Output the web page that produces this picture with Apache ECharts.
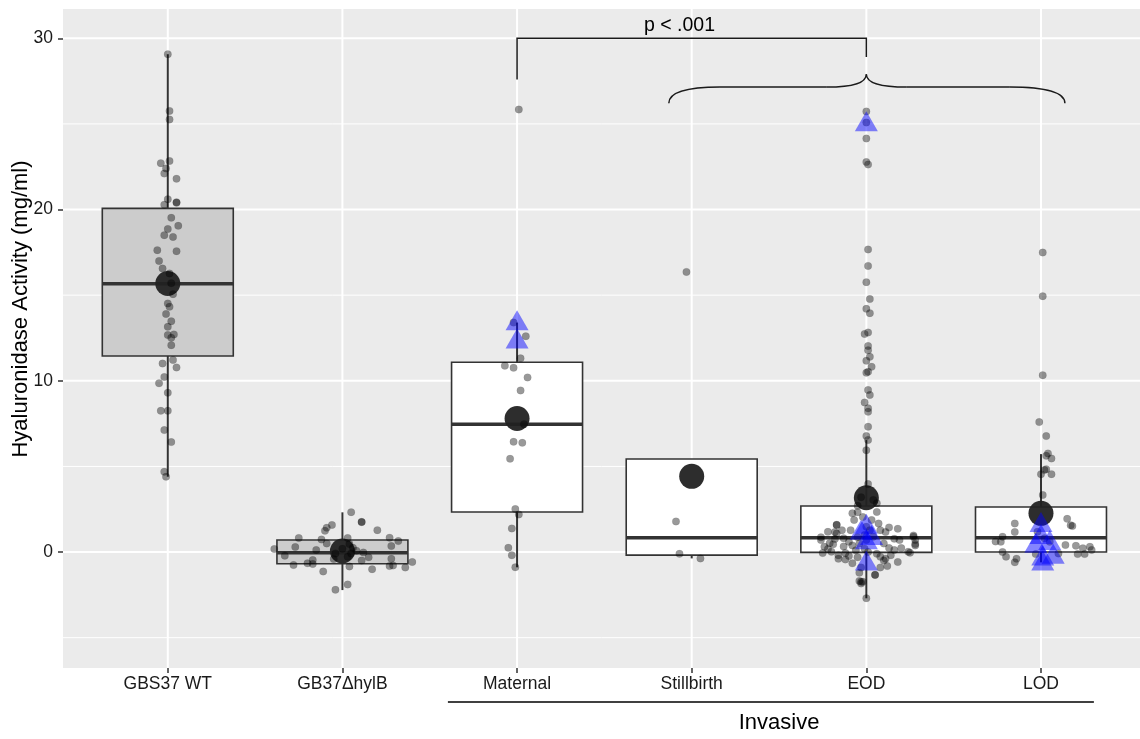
<!DOCTYPE html>
<html><head><meta charset="utf-8">
<script src="https://cdn.jsdelivr.net/npm/echarts@6.0.0/dist/echarts.min.js"></script>
<style>html,body{margin:0;padding:0;background:#fff}#c{width:1140px;height:739px}</style>
</head><body><div id="c"></div>
<script>
// ---------- data ----------
const categories = ['GBS37 WT', 'GB37ΔhylB', 'Maternal', 'Stillbirth', 'EOD', 'LOD'];
const yTicks = [0, 10, 20, 30];
const yMinor = [-5, 5, 15, 25];
const yTitle = 'Hyaluronidase Activity (mg/ml)';
// boxplot statistics
const whiskerLow  = [4.40, -2.22, -0.89, -0.37, -2.70, -0.60];
const q1          = [11.45, -0.68, 2.34, -0.18, -0.02, 0.00];
const median      = [15.67, -0.04, 7.46, 0.84, 0.84, 0.84];
const q3          = [20.07, 0.70, 11.08, 5.43, 2.69, 2.63];
const whiskerHigh = [29.07, 2.32, 13.40, 1.79, 6.54, 5.72];
const boxFilled   = [1, 1, 0, 0, 0, 0];
const means       = [15.68, 0.06, 7.80, 4.42, 3.17, 2.26];
// individual observations: [jitter (category units), value]
const ptsWT = [[0,29.07],[0.01,25.76],[0.01,25.26],[-0.04,22.71],[0.01,22.83],[-0.01,22.4],[-0.02,22.1],[0.05,21.8],[0,20.6],[-0.02,20.28],[0.05,20.39],[0.05,20.42],[0.02,19.52],[0.06,19.05],[0,18.86],[-0.02,18.5],[0.03,18.4],[-0.06,17.63],[0.05,17.57],[-0.05,17.0],[-0.03,16.56],[0.01,16.27],[0.02,15.7],[0.03,15.06],[0,14.52],[0.01,14.32],[-0.01,13.9],[0.02,13.48],[0,13.15],[0,12.67],[0.035,12.71],[0.02,12.51],[0.02,12.08],[0.03,11.21],[0.05,10.78],[-0.03,11.01],[-0.02,10.22],[-0.05,9.85],[0,9.3],[-0.04,8.25],[0,8.25],[-0.02,7.12],[0.02,6.42],[-0.02,4.69],[-0.01,4.4]];
const ptsHylB = [[0.05,2.33],[0.11,1.75],[0.11,1.76],[-0.06,1.58],[-0.09,1.42],[-0.1,1.24],[0.2,1.28],[-0.25,0.82],[0.03,0.82],[-0.12,0.74],[0.27,0.84],[0.32,0.64],[-0.09,0.5],[0.04,0.47],[-0.39,0.18],[-0.27,0.29],[-0.15,0.12],[0.08,0.08],[0.12,-0.02],[0.28,0.35],[-0.33,-0.21],[0.15,-0.31],[-0.05,-0.41],[0.03,-0.27],[0.28,-0.39],[-0.17,-0.47],[0.4,-0.58],[-0.28,-0.76],[-0.2,-0.66],[-0.17,-0.7],[0.04,-0.84],[0.17,-1.0],[0.27,-0.82],[0.29,-0.78],[0.36,-0.9],[-0.11,-1.13],[0.03,-1.89],[-0.04,-2.2],[-0.04,-0.08],[0.05,-0.08],[0,0.2],[0.06,0.25],[0.11,-0.5]];
const ptsMaternal = [[0.01,25.84],[-0.02,13.4],[0.05,12.6],[0.02,11.31],[-0.07,10.88],[-0.02,10.76],[0.06,10.2],[0.02,9.44],[0.04,7.47],[-0.02,6.44],[0.03,6.38],[-0.04,5.45],[-0.01,2.51],[0.01,2.2],[-0.03,1.38],[-0.05,0.25],[-0.03,-0.19],[-0.01,-0.89]];
const ptsStillbirth = [[-0.03,16.36],[-0.09,1.79],[-0.07,-0.1],[0.05,-0.37]];
const ptsEOD = [[0,25.73],[0,25.08],[0,24.15],[0,22.77],[0.01,22.63],[0.01,17.67],[0.01,16.71],[0,15.76],[0.02,14.77],[0,14.2],[0.02,13.95],[-0.01,12.74],[0.01,12.82],[0.01,12.03],[0.01,11.79],[0.02,11.4],[0,11.17],[0.03,10.82],[0.01,10.53],[0,10.47],[0.01,9.46],[0.02,9.17],[-0.01,8.74],[0.01,8.39],[0.01,8.19],[0.01,7.32],[0,6.77],[0.01,6.54],[0,5.95],[0.01,3.97],[-0.03,3.2],[0.04,3.04],[0.06,2.85],[-0.05,2.7],
 [-0.08,2.26],[-0.05,2.32],[0.06,2.34],[-0.02,2.04],[0.07,1.67],[-0.17,1.6],[0.13,1.44],[0.18,1.36],[-0.22,1.18],[-0.18,1.17],[-0.14,1.27],[-0.09,1.28],[-0.26,0.86],[-0.26,0.7],[-0.18,0.76],[-0.13,0.8],[0.16,0.78],[0.19,0.7],[0.27,0.97],[0.28,0.7],[0.28,0.39],[0.24,0.02],[-0.24,0.31],[-0.22,0.18],[-0.25,-0.06],[-0.2,0.02],[-0.19,0.45],[-0.13,0.33],[-0.08,0.39],[-0.16,-0.39],[-0.12,-0.43],[-0.1,-0.23],[-0.05,-0.31],[-0.16,-0.19],[0.08,-0.27],[0.11,-0.39],[0.14,-0.19],[0.18,-0.58],[0.12,-0.82],[0.08,-0.9],[-0.03,-0.9],[-0.08,-0.66],[0.05,-1.33],[-0.04,-1.21],[-0.04,-1.69],[-0.02,-1.73],[-0.03,-1.83],[0,-2.7],
 [0,1.48],[0.02,1.28],[-0.01,1.0],[0.04,0.9],[0,0.7],[-0.05,0.87],[0.08,1.28],[0.11,1.17],[0.03,1.87],[-0.07,1.87],[-0.01,0.2],[0.01,0.0],[0.13,0.23],[0.16,0.12],[0.2,0.23],[0.1,0.5],[-0.1,0.6],[-0.04,0.5],[-0.21,0.51],[-0.17,1.58],[-0.17,1.09],[0.27,0.9],[0.28,0.47],[0.25,-0.04],[-0.03,-1.73],[0.05,-1.34],[0.06,-0.1],[-0.06,0.1],[0.1,-0.5],[-0.12,-0.05]];
const ptsLOD = [[0.01,17.49],[0.01,14.94],[0.01,10.33],[-0.01,7.59],[0.03,6.77],[0.04,5.76],[0.06,5.47],[0.03,5.62],[0.02,4.79],[0,4.55],[0.06,4.55],[0.03,4.83],[0.01,3.33],[-0.15,1.67],[0.15,1.94],[0.17,1.56],[0.18,1.52],[-0.15,1.17],[-0.22,0.9],[-0.26,0.62],[-0.23,0.6],[-0.22,0.0],[-0.2,-0.27],[-0.14,-0.39],[-0.15,-0.6],[0.14,0.41],[0.2,0.37],[0.24,0.22],[0.21,-0.12],[0.28,0.31],[0.29,0.12],[0.25,-0.12],[0.1,-0.08],[-0.03,-0.12],[-0.02,1.19],[0.02,0.8],[0.05,0.6]];
const pointsByGroup = [ptsWT, ptsHylB, ptsMaternal, ptsStillbirth, ptsEOD, ptsLOD];
// highlighted observations (triangles): [category index, jitter, value]
const triangles = [[2,0,13.54],[2,0,12.47],[4,0,25.15],[4,0,1.65],[4,-0.03,1.3],[4,0.03,1.0],[4,0,0.75],[4,0,-0.5],
  [5,0,1.75],[5,0,1.05],[5,0.05,0.7],[5,-0.03,0.55],[5,0.01,-0.2],[5,0.07,-0.1],[5,0.01,-0.5]];
// significance annotation (data coordinates)
const pLabel = 'p < .001';
const pLabelPos = [2.93, 30.72];
const bracketX = [2, 4];
const bracketTop = 30.0;
const bracketEnds = [27.6, 28.9];
const braceX = [2.869, 3.162, 3.774, 4.0, 4.232, 4.822, 5.137];
const braceY = [26.2, 27.15, 27.9];
const groupLabel = 'Invasive';
const groupSpan = [1.604, 5.303];
const groupCenter = 3.5;

// ---------- chart ----------
const FONT = '"Liberation Sans", Arial, Helvetica, sans-serif';
const chart = echarts.init(document.getElementById('c'), null, {renderer: 'canvas'});
const catIdx = categories.map((c, i) => i);

const boxData = catIdx.map(i => [i, whiskerLow[i], q1[i], median[i], q3[i], whiskerHigh[i], boxFilled[i]]);
const pointData = [];
pointsByGroup.forEach((g, i) => g.forEach(p => pointData.push([i + p[0], p[1]])));
const triData = triangles.map(t => [t[0] + t[1], t[2]]);
const meanData = means.map((m, i) => [i, m]);

const option = {
  animation: false,
  backgroundColor: '#ffffff',
  grid: {left: 63, right: 0, top: 9, bottom: 71, show: true, backgroundColor: '#EBEBEB', borderWidth: 0},
  xAxis: {
    type: 'value', min: -0.6, max: 5.567, position: 'bottom',
    axisLine: {show: false, onZero: false},
    axisTick: {show: true, customValues: catIdx, length: 5, lineStyle: {color: '#333', width: 1.5}},
    axisLabel: {customValues: catIdx, margin: 7, color: '#1a1a1a', fontSize: 17.5, fontFamily: FONT,
      formatter: v => Number.isInteger(v) && categories[v] !== undefined ? categories[v] : ''},
    splitLine: {show: false}
  },
  yAxis: {
    type: 'value', min: -6.77, max: 31.71, position: 'left',
    axisLine: {show: false, onZero: false},
    axisTick: {show: true, customValues: yTicks, length: 5, lineStyle: {color: '#333', width: 1.5}},
    axisLabel: {customValues: yTicks, margin: 10, color: '#1a1a1a', fontSize: 17.5, fontFamily: FONT,
      formatter: v => yTicks.indexOf(v) >= 0 ? String(v) : ''},
    splitLine: {show: false}
  },
  series: [
    {
      type: 'custom', z: 2, silent: true, data: boxData,
      renderItem(params, api) {
        const i = api.value(0);
        const w = api.size([0.75, 0])[0];
        const cx = api.coord([i, 0])[0];
        const yLo = api.coord([i, api.value(1)])[1];
        const yQ1 = api.coord([i, api.value(2)])[1];
        const yMed = api.coord([i, api.value(3)])[1];
        const yQ3 = api.coord([i, api.value(4)])[1];
        const yHi = api.coord([i, api.value(5)])[1];
        const fill = api.value(6) ? '#CCCCCC' : '#FFFFFF';
        const st = {stroke: '#333333', lineWidth: 2};
        return {type: 'group', children: [
          {type: 'line', shape: {x1: cx, y1: yQ3, x2: cx, y2: yHi}, style: st},
          {type: 'line', shape: {x1: cx, y1: yQ1, x2: cx, y2: yLo}, style: st},
          {type: 'rect', shape: {x: cx - w / 2, y: yQ3, width: w, height: yQ1 - yQ3}, style: {fill: fill, stroke: '#333333', lineWidth: 1.6}},
          {type: 'line', shape: {x1: cx - w / 2, y1: yMed, x2: cx + w / 2, y2: yMed}, style: {stroke: '#333333', lineWidth: 3.5}}
        ]};
      }
    },
    {
      type: 'scatter', z: 3, silent: true, data: meanData, symbol: 'circle', symbolSize: 25,
      itemStyle: {color: '#222222', opacity: 0.95}
    },
    {
      type: 'scatter', z: 4, silent: true, data: pointData, symbol: 'circle', symbolSize: 7.5,
      itemStyle: {color: 'rgba(0,0,0,0.5)', borderColor: 'rgba(0,0,0,0.15)', borderWidth: 0.6}
    },
    {
      type: 'scatter', z: 5, silent: true, data: triData, symbol: 'triangle', symbolSize: [23, 20],
      itemStyle: {color: 'rgba(0,0,255,0.6)'}
    }
  ]
};
chart.setOption(option);

// ---------- gridlines and annotations placed through the axes ----------
const P = (x, y) => chart.convertToPixel({xAxisIndex: 0, yAxisIndex: 0}, [x, y]);
const px = v => chart.convertToPixel({xAxisIndex: 0}, v);
const py = v => chart.convertToPixel({yAxisIndex: 0}, v);
const x0 = px(-0.6), x1 = px(5.567), y0 = py(31.71), y1 = py(-6.77);
const els = [];
const hLine = (v, w) => ({type: 'line', z: 1, silent: true, shape: {x1: x0, y1: py(v), x2: x1, y2: py(v)}, style: {stroke: '#fff', lineWidth: w}});
yTicks.forEach(v => els.push(hLine(v, 2)));
yMinor.forEach(v => els.push(hLine(v, 1)));
catIdx.forEach(v => els.push({type: 'line', z: 1, silent: true,
  shape: {x1: px(v), y1: y0, x2: px(v), y2: y1}, style: {stroke: '#fff', lineWidth: 2}}));

const stroke = {stroke: '#1a1a1a', lineWidth: 1.5, fill: null};
const L1 = P(bracketX[0], bracketEnds[0]), T1 = P(bracketX[0], bracketTop);
const T2 = P(bracketX[1], bracketTop), R1 = P(bracketX[1], bracketEnds[1]);
els.push({type: 'polyline', z: 10, silent: true, shape: {points: [L1, T1, T2, R1]}, style: stroke});
const b = braceX;
const pA = P(b[0], braceY[0]), cA = P(b[0], braceY[1]), pB = P(b[1], braceY[1]);
const pC = P(b[2], braceY[1]), cT = P(b[3], braceY[1]), tip = P(b[3], braceY[2]);
const pD = P(b[4], braceY[1]), pE = P(b[5], braceY[1]), cE = P(b[6], braceY[1]), pF = P(b[6], braceY[0]);
const qc = (s, c, e) => ({type: 'bezierCurve', z: 10, silent: true,
  shape: {x1: s[0], y1: s[1], cpx1: c[0], cpy1: c[1], x2: e[0], y2: e[1]}, style: stroke});
const ln = (s, e) => ({type: 'line', z: 10, silent: true, shape: {x1: s[0], y1: s[1], x2: e[0], y2: e[1]}, style: stroke});
els.push(qc(pA, cA, pB), ln(pB, pC), qc(pC, cT, tip), qc(tip, cT, pD), ln(pD, pE), qc(pE, cE, pF));
const lp = P(pLabelPos[0], pLabelPos[1]);
els.push({type: 'text', z: 10, silent: true, x: lp[0], y: lp[1],
  style: {text: pLabel, fontSize: 19.5, fontFamily: FONT, fill: '#000', align: 'center', verticalAlign: 'middle'}});
els.push({type: 'text', z: 10, silent: true, x: 21, y: 309, rotation: Math.PI / 2,
  style: {text: yTitle, fontSize: 22, fontFamily: FONT, fill: '#000', align: 'center', verticalAlign: 'middle'}});
els.push({type: 'line', z: 10, silent: true, shape: {x1: px(groupSpan[0]), y1: 702, x2: px(groupSpan[1]), y2: 702},
  style: {stroke: '#000', lineWidth: 1.6}});
els.push({type: 'text', z: 10, silent: true, x: px(groupCenter), y: 723,
  style: {text: groupLabel, fontSize: 22, fontFamily: FONT, fill: '#000', align: 'center', verticalAlign: 'middle'}});
chart.setOption({graphic: els});
</script>
</body></html>
